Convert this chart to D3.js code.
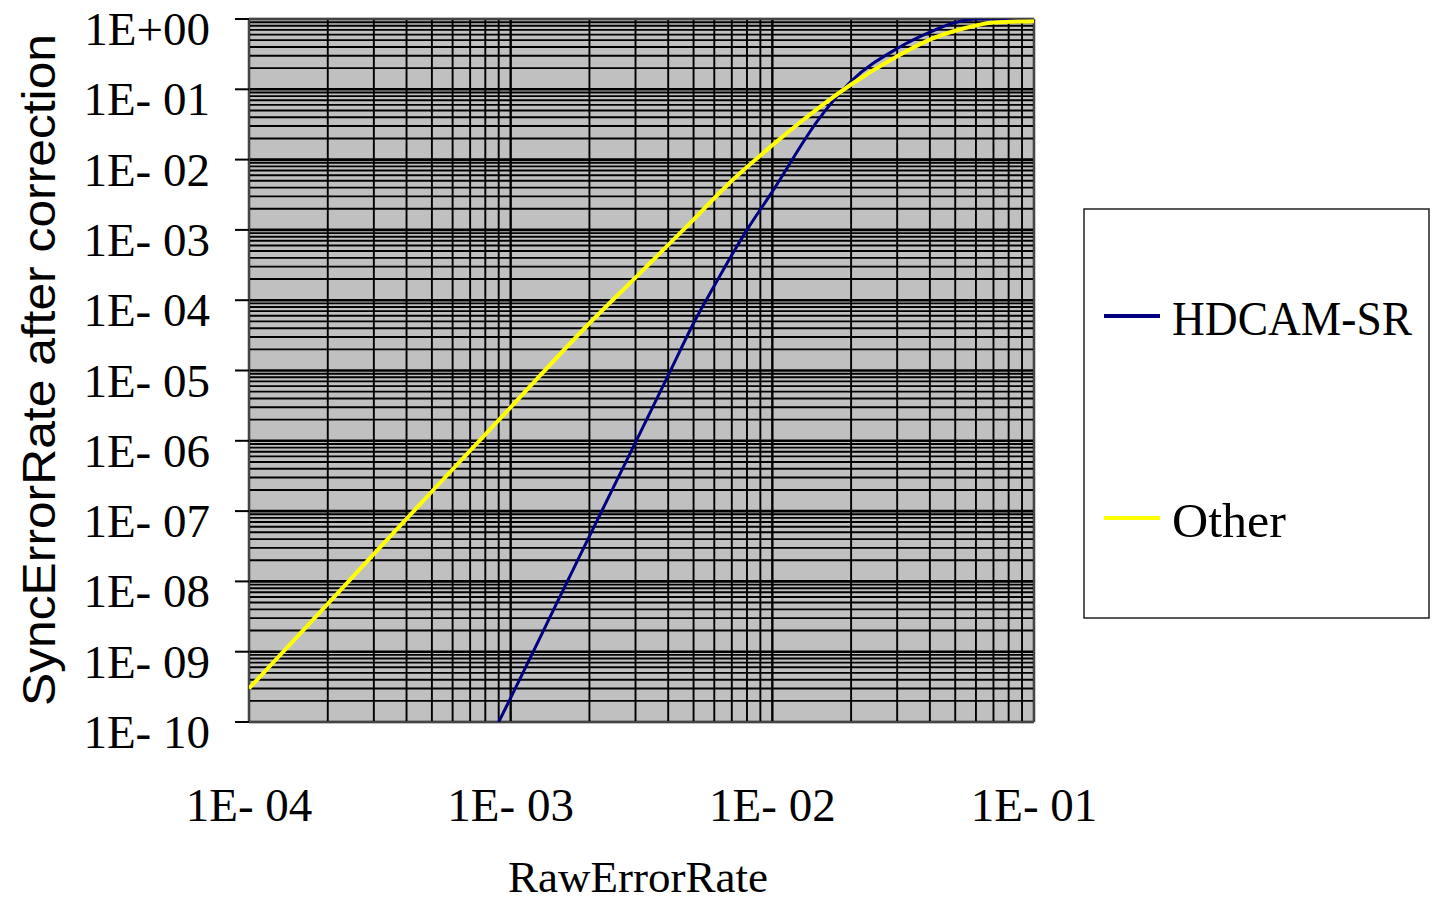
<!DOCTYPE html>
<html>
<head>
<meta charset="utf-8">
<script src="https://cdn.jsdelivr.net/npm/d3@7/dist/d3.min.js"></script>
<style>
html,body{margin:0;padding:0;background:#fff;}
svg{display:block;}
</style>
</head>
<body>
<svg id="chart" width="1432" height="902"></svg>
<script>
// ---- data ----
const seriesNames = ["HDCAM-SR", "Other"];
const seriesColors = ["#000080", "#ffff00"];

const hdcamRaw  = [9e-4, 1e-3, 1.5e-3, 2e-3, 3e-3, 4e-3, 5e-3, 6e-3, 7e-3, 8e-3, 1e-2, 1.5e-2, 2e-2, 3e-2, 4e-2, 5e-2, 6e-2, 1e-1];
const hdcamSync = [1e-10, 2.2e-10, 4.9e-9, 4.4e-8, 9.5e-7, 8.5e-6, 4.7e-5, 1.6e-4, 4.4e-4, 1.0e-3, 3.5e-3, 3.7e-2, 0.13, 0.38, 0.65, 0.89, 1.0, 1.0];

const otherRaw  = [1e-4, 2e-4, 5e-4, 1e-3, 2e-3, 3e-3, 5e-3, 7e-3, 1e-2, 1.5e-2, 2e-2, 3e-2, 4e-2, 5e-2, 6e-2, 7e-2, 1e-1];
const otherSync = [3.0e-10, 4.8e-9, 1.9e-7, 3.0e-6, 4.7e-5, 2.1e-4, 1.4e-3, 5.0e-3, 1.6e-2, 5.4e-2, 0.117, 0.295, 0.51, 0.68, 0.81, 0.89, 0.93];

const xTickValues = [1e-4, 1e-3, 1e-2, 1e-1];
const xTickLabels = ["1E- 04", "1E- 03", "1E- 02", "1E- 01"];
const yTickValues = [1, 1e-1, 1e-2, 1e-3, 1e-4, 1e-5, 1e-6, 1e-7, 1e-8, 1e-9, 1e-10];
const yTickLabels = ["1E+00", "1E- 01", "1E- 02", "1E- 03", "1E- 04", "1E- 05", "1E- 06", "1E- 07", "1E- 08", "1E- 09", "1E- 10"];

const xTitle = "RawErrorRate";
const yTitle = "SyncErrorRate after correction";

// ---- layout ----
const L = 249, R = 1034, T = 19, B = 722;
const svg = d3.select("#chart");

const x = d3.scaleLog().domain([1e-4, 1e-1]).range([L, R]);
const y = d3.scaleLog().domain([1e-10, 1]).range([B, T]);

// plot background
svg.append("rect").attr("x", L).attr("y", T).attr("width", R - L).attr("height", B - T)
  .attr("fill", "#c0c0c0");

// gridlines
const gx = x.ticks();
const gy = y.ticks(20);
const isMajor = v => Math.abs(Math.log10(v) - Math.round(Math.log10(v))) < 1e-9;
const grid = svg.append("g");
grid.selectAll("line.v").data(gx).join("line").attr("class", "v")
  .attr("x1", d => x(d)).attr("x2", d => x(d)).attr("y1", T).attr("y2", B)
  .attr("stroke", "#000").attr("stroke-width", d => isMajor(d) ? 2.4 : 1.9);
grid.selectAll("line.h").data(gy).join("line").attr("class", "h")
  .attr("y1", d => y(d)).attr("y2", d => y(d)).attr("x1", L).attr("x2", R)
  .attr("stroke", "#000").attr("stroke-width", d => isMajor(d) ? 2.6 : 1.9);

// plot border
svg.append("rect").attr("x", L).attr("y", T).attr("width", R - L).attr("height", B - T)
  .attr("fill", "none").attr("stroke", "#888").attr("stroke-width", 1);

// y axis ticks (outward)
svg.append("g").selectAll("line").data(yTickValues).join("line")
  .attr("x1", L - 14).attr("x2", L).attr("y1", d => y(d)).attr("y2", d => y(d))
  .attr("stroke", "#000").attr("stroke-width", 2);

// y tick labels
svg.append("g").selectAll("text").data(yTickValues).join("text")
  .attr("x", 210).attr("y", d => y(d) + 26)
  .attr("text-anchor", "end")
  .attr("font-family", "'Liberation Serif', 'Times New Roman', serif")
  .attr("font-size", 47).attr("fill", "#000")
  .text((d, i) => yTickLabels[i]);

// x tick labels
svg.append("g").selectAll("text").data(xTickValues).join("text")
  .attr("x", d => x(d)).attr("y", 821)
  .attr("text-anchor", "middle")
  .attr("font-family", "'Liberation Serif', 'Times New Roman', serif")
  .attr("font-size", 47).attr("fill", "#000")
  .text((d, i) => xTickLabels[i]);

// axis titles
svg.append("text").attr("x", 638).attr("y", 892).attr("text-anchor", "middle")
  .attr("font-family", "'Liberation Serif', 'Times New Roman', serif")
  .attr("font-size", 45).attr("fill", "#000").text(xTitle);

svg.append("text").attr("transform", "translate(55,370) rotate(-90)")
  .attr("text-anchor", "middle")
  .attr("font-family", "'Liberation Sans', Arial, sans-serif")
  .attr("font-size", 46).attr("fill", "#000")
  .attr("textLength", 672).attr("lengthAdjust", "spacingAndGlyphs")
  .text(yTitle);

// curves
svg.append("clipPath").attr("id", "clip").append("rect")
  .attr("x", L).attr("y", T).attr("width", R - L).attr("height", B - T);
const line = d3.line().x(d => x(d[0])).y(d => y(d[1])).curve(d3.curveMonotoneX);
const curves = svg.append("g").attr("clip-path", "url(#clip)");
curves.append("path").datum(hdcamRaw.map((v, i) => [v, hdcamSync[i]]))
  .attr("d", line).attr("fill", "none").attr("stroke", seriesColors[0]).attr("stroke-width", 3);
curves.append("path").datum(otherRaw.map((v, i) => [v, otherSync[i]]))
  .attr("d", line).attr("fill", "none").attr("stroke", seriesColors[1]).attr("stroke-width", 4);

// legend
const lg = svg.append("g");
lg.append("rect").attr("x", 1084).attr("y", 209).attr("width", 345).attr("height", 409)
  .attr("fill", "#fff").attr("stroke", "#222").attr("stroke-width", 1.5);
const legendY = [316, 518];
const legendW = [240, 114];
seriesNames.forEach((name, i) => {
  lg.append("line").attr("x1", 1104).attr("x2", 1160).attr("y1", legendY[i]).attr("y2", legendY[i])
    .attr("stroke", seriesColors[i]).attr("stroke-width", 4);
  lg.append("text").attr("x", 1172).attr("y", legendY[i] + 19)
    .attr("font-family", "'Liberation Serif', 'Times New Roman', serif")
    .attr("font-size", 48).attr("fill", "#000")
    .attr("textLength", legendW[i]).attr("lengthAdjust", "spacingAndGlyphs")
    .text(name);
});
</script>
</body>
</html>
